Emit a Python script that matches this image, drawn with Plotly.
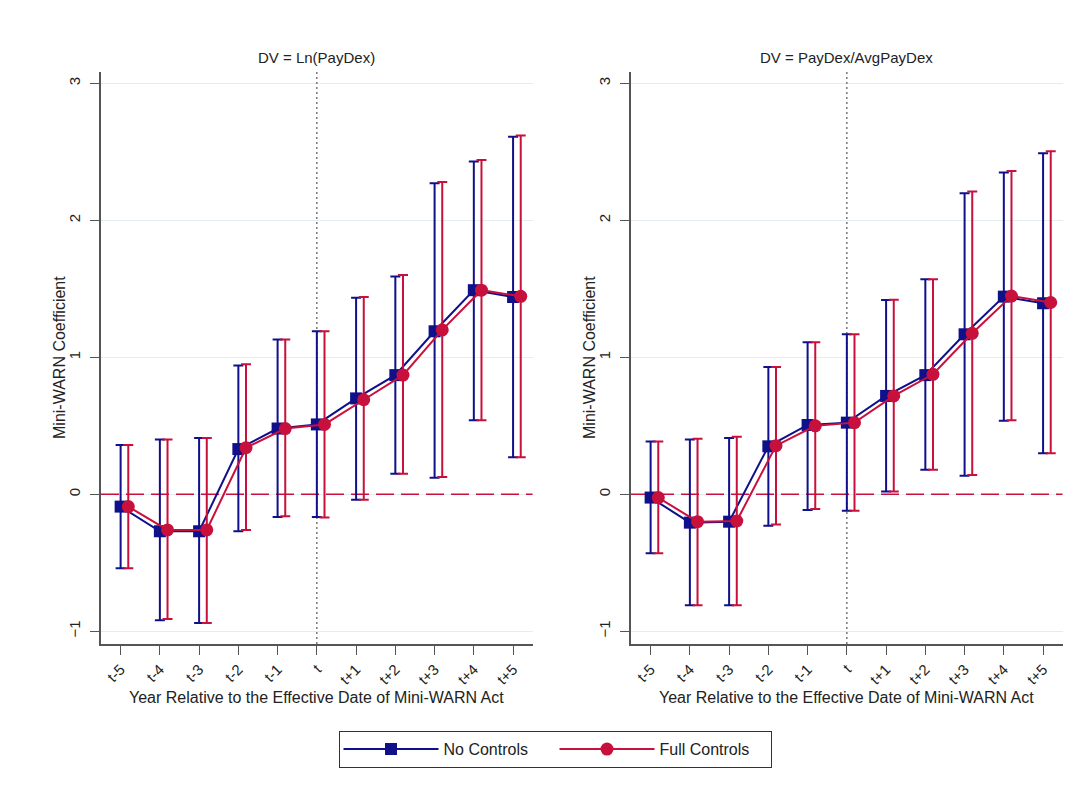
import plotly.graph_objects as go

# ---------------- data ----------------
periods = ["t-5", "t-4", "t-3", "t-2", "t-1", "t", "t+1", "t+2", "t+3", "t+4", "t+5"]
rel_year = [-5, -4, -3, -2, -1, 0, 1, 2, 3, 4, 5]

# Panel 1: DV = Ln(PayDex)
ln_no_coef = [-0.09, -0.27, -0.27, 0.33, 0.48, 0.51, 0.70, 0.87, 1.19, 1.49, 1.44]
ln_no_lo = [-0.54, -0.92, -0.94, -0.27, -0.165, -0.165, -0.04, 0.15, 0.12, 0.54, 0.27]
ln_no_hi = [0.36, 0.40, 0.41, 0.94, 1.13, 1.19, 1.435, 1.59, 2.27, 2.43, 2.61]

ln_full_coef = [-0.09, -0.26, -0.26, 0.34, 0.48, 0.51, 0.69, 0.87, 1.20, 1.49, 1.445]
ln_full_lo = [-0.54, -0.91, -0.94, -0.26, -0.16, -0.17, -0.04, 0.15, 0.127, 0.54, 0.27]
ln_full_hi = [0.36, 0.40, 0.41, 0.95, 1.13, 1.19, 1.44, 1.60, 2.28, 2.44, 2.62]

# Panel 2: DV = PayDex/AvgPayDex
rt_no_coef = [-0.024, -0.207, -0.20, 0.35, 0.506, 0.523, 0.718, 0.87, 1.168, 1.443, 1.394]
rt_no_lo = [-0.43, -0.81, -0.81, -0.23, -0.114, -0.12, 0.02, 0.18, 0.136, 0.537, 0.30]
rt_no_hi = [0.385, 0.40, 0.41, 0.93, 1.11, 1.168, 1.418, 1.57, 2.197, 2.35, 2.49]

rt_full_coef = [-0.024, -0.20, -0.195, 0.355, 0.50, 0.523, 0.718, 0.876, 1.175, 1.447, 1.40]
rt_full_lo = [-0.43, -0.81, -0.81, -0.22, -0.107, -0.12, 0.02, 0.18, 0.14, 0.54, 0.30]
rt_full_hi = [0.385, 0.406, 0.42, 0.93, 1.11, 1.168, 1.42, 1.57, 2.21, 2.36, 2.505]

panel_titles = ["DV = Ln(PayDex)", "DV = PayDex/AvgPayDex"]
series_names = ["No Controls", "Full Controls"]
y_ticks = [-1, 0, 1, 2, 3]
x_range = [-5.5, 5.5]
y_range = [-1.093, 3.085]
event_year = 0
ref_value = 0

# ---------------- style ----------------
BLUE = "#10108a"
RED = "#c8103c"
FONT = "Arial, Liberation Sans, sans-serif"
TXT = "#222222"
AX = "#555555"
OFFSET = 0.195

# page has 8px body margin; figure sized to fit inside the window
PAD = 8
FW, FH = 1091 - 2 * PAD, 799 - 2 * PAD


def px_x(X):
    return (X - PAD) / FW


def px_y(Y):
    return (FH - (Y - PAD)) / FH


x_domains = [[px_x(101), px_x(532.7)], [px_x(631), px_x(1062.7)]]
y_domain = [px_y(644), px_y(71.7)]

fig = go.Figure()

panels = [
    (ln_no_coef, ln_no_lo, ln_no_hi, ln_full_coef, ln_full_lo, ln_full_hi),
    (rt_no_coef, rt_no_lo, rt_no_hi, rt_full_coef, rt_full_lo, rt_full_hi),
]

for p, (nc, nl, nh, fc, fl, fh) in enumerate(panels):
    xa = "x" if p == 0 else "x2"
    ya = "y" if p == 0 else "y2"
    # reference lines (drawn first, under the estimates, above the grid)
    fig.add_trace(go.Scatter(
        x=x_range, y=[ref_value, ref_value], mode="lines", showlegend=False,
        hoverinfo="skip", line=dict(color=RED, width=1.6, dash="18px,7px"),
        xaxis=xa, yaxis=ya,
    ))
    fig.add_trace(go.Scatter(
        x=[event_year, event_year], y=[y_range[0], y_range[1] + 0.02], mode="lines",
        showlegend=False, hoverinfo="skip", cliponaxis=False,
        line=dict(color="#555555", width=1.2, dash="2px,3px"),
        xaxis=xa, yaxis=ya,
    ))
    for s, (coef, lo, hi, col, sym, size, dx) in enumerate([
        (nc, nl, nh, BLUE, "square", 12, 0.0),
        (fc, fl, fh, RED, "circle", 13, OFFSET),
    ]):
        xs = [x + dx for x in rel_year]
        fig.add_trace(go.Scatter(
            x=xs, y=coef, mode="lines+markers",
            name=series_names[s], legendgroup=series_names[s],
            showlegend=(p == 0),
            line=dict(color=col, width=2),
            marker=dict(symbol=sym, size=size, color=col),
            error_y=dict(
                type="data", symmetric=False,
                array=[h - c for h, c in zip(hi, coef)],
                arrayminus=[c - l for c, l in zip(coef, lo)],
                color=col, thickness=2, width=5,
            ),
            xaxis=xa, yaxis=ya,
        ))

axis_common_x = dict(
    range=x_range, tickvals=rel_year, ticktext=periods, tickangle=-45,
    showgrid=False, zeroline=False, showline=True, linecolor=AX, linewidth=1.5,
    ticks="outside", ticklen=9, tickcolor=AX, tickwidth=1.2,
    tickfont=dict(family=FONT, size=15, color=TXT), fixedrange=True,
)
axis_common_y = dict(
    range=y_range, tickvals=y_ticks, tickangle=-90,
    showgrid=True, gridcolor="#e4edef", gridwidth=1.2,
    zeroline=False, showline=True, linecolor=AX, linewidth=1.5,
    ticks="outside", ticklen=9, tickcolor=AX, tickwidth=1.2,
    ticklabelstandoff=4,
    tickfont=dict(family=FONT, size=15, color=TXT), fixedrange=True,
)

fig.update_layout(
    xaxis=dict(domain=x_domains[0], anchor="y", **axis_common_x),
    yaxis=dict(domain=y_domain, anchor="x", **axis_common_y),
    xaxis2=dict(domain=x_domains[1], anchor="y2", **axis_common_x),
    yaxis2=dict(domain=y_domain, anchor="x2", **axis_common_y),
)

annotations = []
for p in range(2):
    xc = (x_domains[p][0] + x_domains[p][1]) / 2
    annotations.append(dict(text=panel_titles[p], xref="paper", yref="paper",
                            x=xc, y=px_y(58), showarrow=False,
                            font=dict(family=FONT, size=15, color=TXT),
                            xanchor="center", yanchor="middle"))
    annotations.append(dict(text="Year Relative to the Effective Date of Mini-WARN Act",
                            xref="paper", yref="paper", x=xc, y=px_y(697),
                            showarrow=False, font=dict(family=FONT, size=16, color=TXT),
                            xanchor="center", yanchor="middle"))
    annotations.append(dict(text="Mini-WARN Coefficient", xref="paper", yref="paper",
                            x=px_x(60 if p == 0 else 590), y=px_y(358), textangle=-90,
                            showarrow=False, font=dict(family=FONT, size=16, color=TXT),
                            xanchor="center", yanchor="middle"))

fig.update_layout(
    width=FW, height=FH,
    margin=dict(l=0, r=0, t=0, b=0),
    paper_bgcolor="white", plot_bgcolor="white",
    annotations=annotations,
    showlegend=True,
    legend=dict(
        orientation="h", x=px_x(555.5), y=px_y(749.5),
        xanchor="center", yanchor="middle",
        bordercolor="#333333", borderwidth=1.2, bgcolor="white",
        font=dict(family=FONT, size=16, color=TXT),
        entrywidth=106, entrywidthmode="pixels", itemwidth=95,
    ),
    font=dict(family=FONT, size=15, color=TXT),
)

fig.write_html("out.html")
